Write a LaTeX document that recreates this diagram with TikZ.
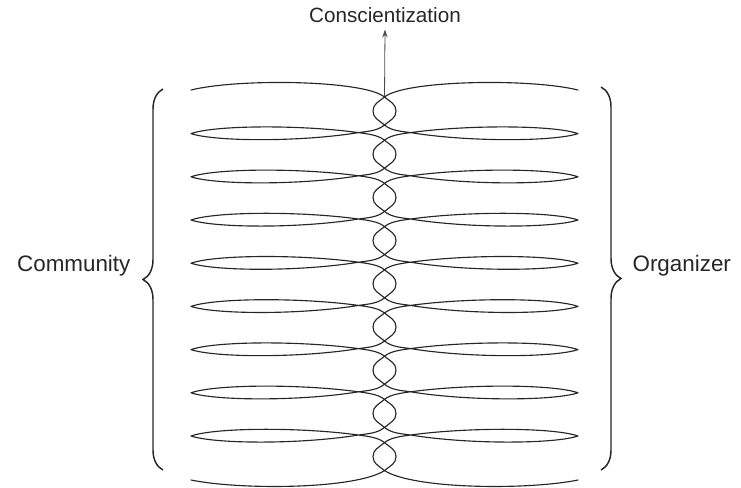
\documentclass[tikz,border=0pt]{standalone}
\usepackage{fontspec}
\setmainfont{Liberation Sans}
\usetikzlibrary{decorations.pathreplacing,arrows.meta}
\begin{document}
\begin{tikzpicture}[x=0.75pt,y=-0.75pt,
  strand/.style={line width=0.85pt, black!85, line cap=round, line join=round},
  bracestyle/.style={line width=1.1pt, black!85, decorate, decoration={brace, amplitude=15pt}},
  label/.style={font=\fontsize{15.5}{18}\selectfont, text=black!85, inner sep=1pt},
  sidelabel/.style={label, font=\fontsize{16.8}{19}\selectfont}]
\useasboundingbox (0,0) rectangle (741,487);
\def\cx{384.5}
\newcommand\halfcoil{%
  \draw[strand] (191,90) .. controls (240,78) and (364.5,80.3) .. (\cx,97);
  \foreach \k in {1,...,8}{%
    \pgfmathsetmacro\t{97+43.2*(\k-1)}
    \pgfmathsetmacro\s{\t+35.6}
    \pgfmathsetmacro\tn{\t+43.2}
    \draw[strand] (\cx,\t) .. controls ({\cx+6},{\t+5}) and ({\cx+11.5},{\t+7}) .. ({\cx+11.5},{\t+14})
      .. controls ({\cx+11.5},{\t+21}) and ({\cx+6},{\t+23}) .. (\cx,{\t+28})
      .. controls ({\cx-7},{\t+33.8}) and ({\cx-16},{\s-1.4}) .. ({\cx-26},\s)
      .. controls (300,{\s+9.5}) and (215,{\s+9}) .. (191,{\s+1})
      .. controls (215,{\s-7.5}) and (300,{\s-8}) .. ({\cx-26},\s)
      .. controls ({\cx-16},{\s+1.4}) and ({\cx-6},{\tn-5}) .. (\cx,\tn);
  }
  \draw[strand] (\cx,442.6) .. controls ({\cx+6},447.6) and ({\cx+11.5},449.6) .. ({\cx+11.5},456.6)
      .. controls ({\cx+11.5},463.6) and ({\cx+6},465.6) .. (\cx,470.6)
      .. controls ({\cx-30},489.5) and (240,490) .. (191,480);
}
\halfcoil
\begin{scope}[shift={(769,0)}, xscale=-1]
\halfcoil
\end{scope}
\node[label] (consc) at (385,15) {Conscientization};
\node[sidelabel, anchor=east] (comm) at (132,266) {Community};
\node[sidelabel, anchor=west] (org) at (631,266) {Organizer};
\coordinate (top) at (\cx,96);
\draw[line width=0.6pt, black!70, -{Stealth[length=6pt,width=4pt]}] (top) -- ([yshift=-4pt]consc.south);
\draw[bracestyle] (163,470) -- (163,89);
\draw[bracestyle] (601,87) -- (601,470);
\end{tikzpicture}
\end{document}
